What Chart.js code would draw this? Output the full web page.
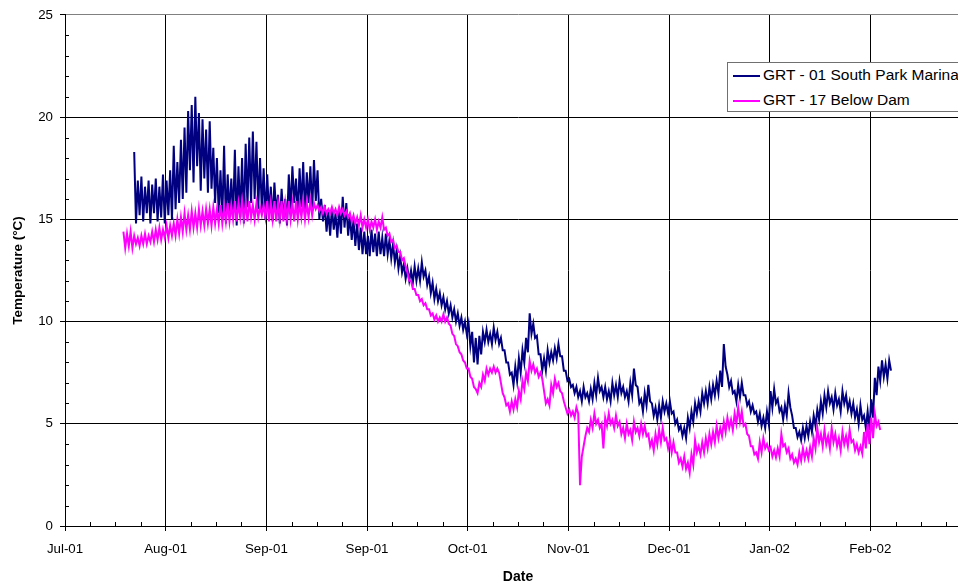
<!DOCTYPE html>
<html>
<head>
<meta charset="utf-8">
<title>Water temperature</title>
<script src="https://cdn.jsdelivr.net/npm/chart.js@4.4.1/dist/chart.umd.min.js"></script>
<style>
  html, body { margin: 0; padding: 0; background: #fff; overflow: hidden; }
  #wrap { position: relative; width: 990px; height: 588px; }
  #legend {
    position: absolute; left: 727px; top: 62px; width: 260px; height: 48px;
    background: #fff; border: 1px solid #707070;
    font: 15.5px Arial, "Liberation Sans", sans-serif; color: #000;
  }
  #legend .row { position: absolute; left: 0; height: 24px; line-height: 24px; white-space: nowrap; }
  #legend .swatch { display: inline-block; width: 27px; height: 2px; margin: 0 3px 0 5px; vertical-align: middle; }
</style>
</head>
<body>
<div id="wrap">
  <canvas id="chart" width="990" height="588"></canvas>
  <div id="legend"></div>
</div>
<script>
// x axis is in days from the axis origin; one labelled tick every 4 weeks
const tickStepDays = 28;
const tickLabels = ['Jul-01', 'Aug-01', 'Sep-01', 'Sep-01', 'Oct-01', 'Nov-01', 'Dec-01', 'Jan-02', 'Feb-02'];
const yTicks = [0, 5, 10, 15, 20, 25];

const seriesNames = ['GRT - 01 South Park Marina', 'GRT - 17 Below Dam'];

// logger readings, two per day (daily high / low), °C
const marinaStart = 19.25;
const marinaTemps = [
  18.3,14.8, 16.9,15.2, 17.1,14.9, 16.6,15.3, 16.9,14.8,
  16.7,15.3, 17.0,14.9, 16.6,15.1, 17.2,14.8, 16.9,15.2,
  17.4,15.0, 18.6,15.5, 17.8,15.8, 18.9,16.0, 19.5,16.3,
  20.3,17.4, 20.6,16.8, 21.0,17.6, 20.2,16.4, 19.9,17.0,
  19.4,16.3, 19.8,16.5, 18.5,15.8, 18.0,15.3, 17.4,15.0,
  18.6,14.8, 17.2,15.2, 17.0,15.0, 18.4,14.7,
  17.6,15.1, 18.0,14.8, 18.7,15.6, 19.0,15.8, 19.3,16.0,
  18.8,15.5, 18.0,15.4, 17.5,15.0, 17.2,15.2, 16.6,14.9,
  16.8,15.3, 16.2,14.8, 16.5,15.0, 16.0,14.7, 17.2,15.4,
  17.6,15.8, 17.0,15.2, 17.5,15.6, 17.8,15.2, 17.3,15.8,
  17.6,15.4, 17.9,15.9, 17.4,15.0, 16.0,14.9,
  15.7,14.4, 15.4,14.2, 15.6,14.5, 15.3,14.1, 15.5,14.3,
  16.1,14.6, 15.8,14.2, 15.2,14.0, 15.0,13.7, 14.8,13.5,
  14.6,13.3, 14.4,13.3, 14.2,13.2, 14.5,13.4, 14.3,13.2,
  14.4,13.3, 14.1,13.2, 14.3,13.3, 14.0,13.1, 13.8,12.9,
  13.5,12.6, 13.2,12.4, 12.8,12.1, 12.6,12.0, 12.5,11.9,
  12.7,12.0, 12.6,12.0, 12.9,12.2, 12.5,11.8,
  12.2,11.4, 11.9,11.1, 11.6,11.0, 11.4,10.8, 11.2,10.6,
  11.0,10.4, 10.8,10.2, 10.6,10.0, 10.4,9.8, 10.2,9.6,
  10.0,9.4, 9.9,8.8, 9.5,8.0, 9.2,7.9, 9.3,8.4,
  9.5,9.0, 9.6,9.0, 9.4,8.9, 9.7,9.1, 9.5,8.9,
  9.2,8.6, 8.6,8.0, 8.0,7.4, 7.5,6.9,
  7.8,7.1, 8.2,7.5, 8.6,8.0, 9.2,8.5, 10.4,9.4,
  9.9,9.2, 9.3,8.4, 8.4,7.6, 8.2,7.6, 8.6,8.0,
  8.5,8.1, 8.7,8.2, 8.9,8.3, 8.3,7.6, 7.6,7.1,
  7.2,6.8, 6.9,6.5, 6.8,6.3, 6.6,6.1, 6.8,6.3,
  6.5,6.1, 6.7,6.2, 7.0,6.4, 7.25,6.6, 6.8,6.3,
  6.8,6.2, 6.6,6.1, 7.0,6.4, 6.9,6.3,
  7.1,6.5, 6.8,6.3, 6.6,6.1, 7.0,6.4, 7.7,6.9,
  6.8,6.0, 6.2,5.6, 6.5,5.9, 6.9,6.1, 6.0,5.4,
  5.8,5.2, 5.9,5.3, 6.1,5.6, 6.0,5.5, 6.1,5.5,
  5.6,5.0, 5.2,4.7, 4.9,4.4, 4.8,4.3, 5.3,4.8,
  5.6,5.1, 6.0,5.5, 6.1,5.6, 6.5,6.0,
  6.6,6.0, 6.8,6.2, 6.9,6.4, 7.1,6.5, 7.6,6.8,
  8.9,7.8, 7.4,6.8, 7.1,6.5, 6.6,6.1, 6.9,6.3,
  7.0,6.4, 6.4,5.9, 6.1,5.6, 5.9,5.5, 5.6,5.1,
  5.5,4.9, 5.3,4.8, 5.6,5.0, 6.6,5.8, 6.7,6.0,
  6.2,5.6, 5.8,5.2, 5.9,5.4, 6.5,5.8,
  5.4,4.8, 4.8,4.35, 4.6,4.2, 4.8,4.3, 4.9,4.4,
  5.1,4.6, 5.4,4.9, 5.7,5.2, 6.1,5.5, 6.4,5.8,
  6.6,6.0, 6.3,5.7, 6.5,5.9, 6.2,5.6, 6.6,6.0,
  6.4,5.7, 6.1,5.5, 6.0,5.3, 5.7,5.0, 5.9,5.2,
  5.4,4.8, 5.6,4.7, 6.2,5.3, 7.25,6.4, 7.8,7.1,
  8.1,7.3, 7.9,7.2, 8.1,7.6
];

const damStart = 16.25;
const damTemps = [
  14.4,13.6, 14.3,13.7, 14.4,13.6, 14.2,13.8, 14.1,13.7,
  14.2,13.8, 14.3,13.8, 14.2,13.9, 14.4,13.9, 14.5,14.0,
  14.6,14.0, 14.5,14.1, 14.7,14.1, 14.7,14.2, 14.8,14.2,
  15.0,14.3, 15.1,14.4, 15.3,14.5, 15.2,14.5, 15.4,14.6,
  15.3,14.6, 15.5,14.7, 15.4,14.7, 15.5,14.8, 15.5,14.7,
  15.6,14.8, 15.5,14.8, 15.7,14.8, 15.6,14.9,
  15.8,14.9, 15.7,15.0, 15.9,14.9, 15.8,15.1, 15.9,15.0,
  15.8,14.9, 15.9,15.1, 15.7,15.0, 15.8,15.1, 15.6,15.2,
  15.7,15.1, 15.9,14.9, 15.8,15.0, 15.9,14.9, 15.8,15.0,
  15.9,14.9, 15.8,15.0, 15.9,15.0, 15.8,14.9, 15.9,15.0,
  15.8,15.1, 15.9,15.0, 15.8,15.1, 15.9,15.2,
  15.8,15.5, 15.7,15.4, 15.6,15.3, 15.6,15.3, 15.5,15.3,
  15.6,15.3, 15.5,15.2, 15.6,15.3, 15.5,15.2, 15.4,15.1,
  15.3,14.9, 15.2,14.8, 15.1,14.7, 15.2,14.6, 15.0,14.6,
  15.0,14.5, 14.9,14.6, 15.0,14.5, 14.9,14.6, 15.1,14.5,
  14.6,14.2, 14.3,13.9, 14.0,13.6, 13.7,13.4, 13.4,13.0,
  13.1,12.7, 12.4,12.0, 12.0,11.6, 11.6,11.3,
  11.3,11.0, 11.1,10.8, 10.9,10.6, 10.6,10.3, 10.4,10.1,
  10.3,10.0, 10.2,10.0, 10.35,10.0, 10.2,9.9, 9.8,9.4,
  9.3,8.9, 8.8,8.5, 8.4,8.1, 8.0,7.7, 7.7,7.3,
  7.2,6.8, 6.7,6.5, 7.0,6.8, 7.4,7.1, 7.7,7.4,
  7.7,7.5, 7.8,7.5, 7.7,7.5, 7.0,6.5,
  6.3,5.9, 6.0,5.6, 6.1,5.7, 6.2,5.8, 6.6,6.2,
  7.1,6.7, 7.5,7.1, 8.07,7.6, 7.9,7.5, 7.7,7.3,
  7.5,7.2, 6.6,6.0, 6.2,5.9, 6.9,6.5, 7.2,6.8,
  7.0,6.6, 6.5,6.1, 5.8,5.5, 5.7,5.4,
  5.6,5.3, 5.8,5.5, 2.0,3.4, 3.9,4.4, 4.8,4.6,
  5.2,4.8, 5.5,5.0, 5.2,4.8, 5.0,3.8, 5.3,4.9,
  5.5,5.0, 5.2,4.8, 5.4,4.9, 5.1,4.5, 4.8,4.3,
  5.0,4.5, 4.7,4.2, 5.1,4.6, 4.8,4.4, 5.0,4.5,
  4.9,4.4, 4.5,3.9, 4.2,3.7, 4.5,4.0, 4.7,4.1,
  4.8,4.2, 4.3,3.8, 4.2,3.6, 4.1,3.6, 3.6,3.1,
  3.3,2.9, 3.4,2.8, 3.1,2.6, 3.5,3.0,
  4.2,3.6, 3.9,3.5, 4.1,3.6, 4.3,3.8, 4.5,4.0,
  4.6,4.1, 4.9,4.3, 4.8,4.4, 5.1,4.6, 5.3,4.8,
  5.2,4.7, 5.5,5.0, 5.8,5.1, 5.6,4.9, 5.0,4.5,
  4.4,3.9, 3.9,3.5, 3.6,3.3, 4.1,3.6, 4.3,3.8,
  4.0,3.7, 3.85,3.4, 3.7,3.35, 3.8,3.4,
  4.5,3.9, 4.0,3.6, 3.8,3.3, 3.5,3.1, 3.3,3.0,
  3.6,3.2, 3.8,3.3, 3.7,3.3, 3.85,3.4, 4.3,3.8,
  4.8,4.1, 4.5,3.9, 4.7,4.0, 4.4,3.8, 4.8,4.1,
  4.5,3.9, 4.3,3.7, 4.6,4.0, 4.4,3.9, 4.7,4.1,
  4.2,3.7, 4.0,3.6, 3.9,3.55, 4.6,3.8, 5.0,4.0,
  5.3,4.3, 5.5,4.9, 5.1,4.7
];

const FONT = 'Arial, "Liberation Sans", sans-serif';
const colors = ['#000080', '#FF00FF'];

// readings are half a day apart
function toPoints(start, temps) {
  return temps.map((t, i) => ({ x: start + i * 0.5, y: t }));
}

// small inner ticks: weekly on the date axis, every degree on the temperature axis
const minorTicks = {
  id: 'minorTicks',
  afterDraw(chart) {
    const { ctx, scales: { x, y } } = chart;
    ctx.save();
    ctx.strokeStyle = '#000';
    ctx.lineWidth = 1;
    ctx.beginPath();
    for (let d = 7; d < x.max; d += 7) {
      if (d % tickStepDays === 0) continue;
      const px = Math.round(x.getPixelForValue(d)) + 0.5;
      ctx.moveTo(px, y.bottom);
      ctx.lineTo(px, y.bottom - 4);
    }
    for (let t = 1; t < 25; t++) {
      if (t % 5 === 0) continue;
      const py = Math.round(y.getPixelForValue(t)) + 0.5;
      ctx.moveTo(x.left, py);
      ctx.lineTo(x.left + 4, py);
    }
    ctx.stroke();
    ctx.restore();
  }
};

const chart = new Chart(document.getElementById('chart'), {
  type: 'line',
  data: {
    datasets: [
      {
        label: seriesNames[0],
        data: toPoints(marinaStart, marinaTemps),
        borderColor: colors[0],
        borderWidth: 2,
        pointRadius: 0,
        order: 2
      },
      {
        label: seriesNames[1],
        data: toPoints(damStart, damTemps),
        borderColor: colors[1],
        borderWidth: 2,
        pointRadius: 0,
        order: 1 // drawn over the marina trace
      }
    ]
  },
  options: {
    responsive: false,
    animation: false,
    devicePixelRatio: 1,
    layout: { padding: { left: 0, top: 12, right: 19, bottom: 0 } },
    plugins: { legend: { display: false }, tooltip: { enabled: false } },
    scales: {
      x: {
        type: 'linear',
        min: 0,
        max: tickStepDays * tickLabels.length,
        afterFit: (s) => { s.height = 62; },
        afterBuildTicks: (s) => {
          s.ticks = [];
          for (let v = 0; v <= s.max; v += tickStepDays) s.ticks.push({ value: v });
        },
        ticks: {
          autoSkip: false,
          maxRotation: 0,
          padding: 10,
          color: '#000',
          font: { family: FONT, size: 13.3 },
          callback: (v) => tickLabels[Math.round(v / tickStepDays)] || ''
        },
        grid: { color: '#000', tickColor: '#000', tickLength: 5, lineWidth: 1 },
        border: { color: '#000', width: 1 },
        title: {
          display: true,
          text: 'Date',
          color: '#000',
          font: { family: FONT, size: 14, weight: 'bold' },
          padding: { top: 0, bottom: 2 }
        }
      },
      y: {
        min: 0,
        max: 25,
        afterFit: (s) => { s.width = 65; },
        afterBuildTicks: (s) => { s.ticks = yTicks.map((v) => ({ value: v })); },
        ticks: {
          padding: 7,
          color: '#000',
          font: { family: FONT, size: 13.3 }
        },
        grid: {
          color: (c) => (c.tick && c.tick.value === 25 ? '#808080' : '#000'),
          tickColor: '#000',
          tickLength: 5,
          lineWidth: 1
        },
        border: { color: '#000', width: 1 },
        title: {
          display: true,
          text: 'Temperature (°C)',
          color: '#000',
          font: { family: FONT, size: 13.5, weight: 'bold' },
          padding: { top: 10, bottom: 0 }
        }
      }
    }
  },
  plugins: [minorTicks]
});

// legend box sits inside the plot area, top right
const legend = document.getElementById('legend');
chart.data.datasets.forEach((ds, i) => {
  const row = document.createElement('div');
  row.className = 'row';
  row.style.top = (i * 25) + 'px';
  const sw = document.createElement('span');
  sw.className = 'swatch';
  sw.style.background = ds.borderColor;
  row.appendChild(sw);
  row.appendChild(document.createTextNode(ds.label));
  legend.appendChild(row);
});
</script>
</body>
</html>
